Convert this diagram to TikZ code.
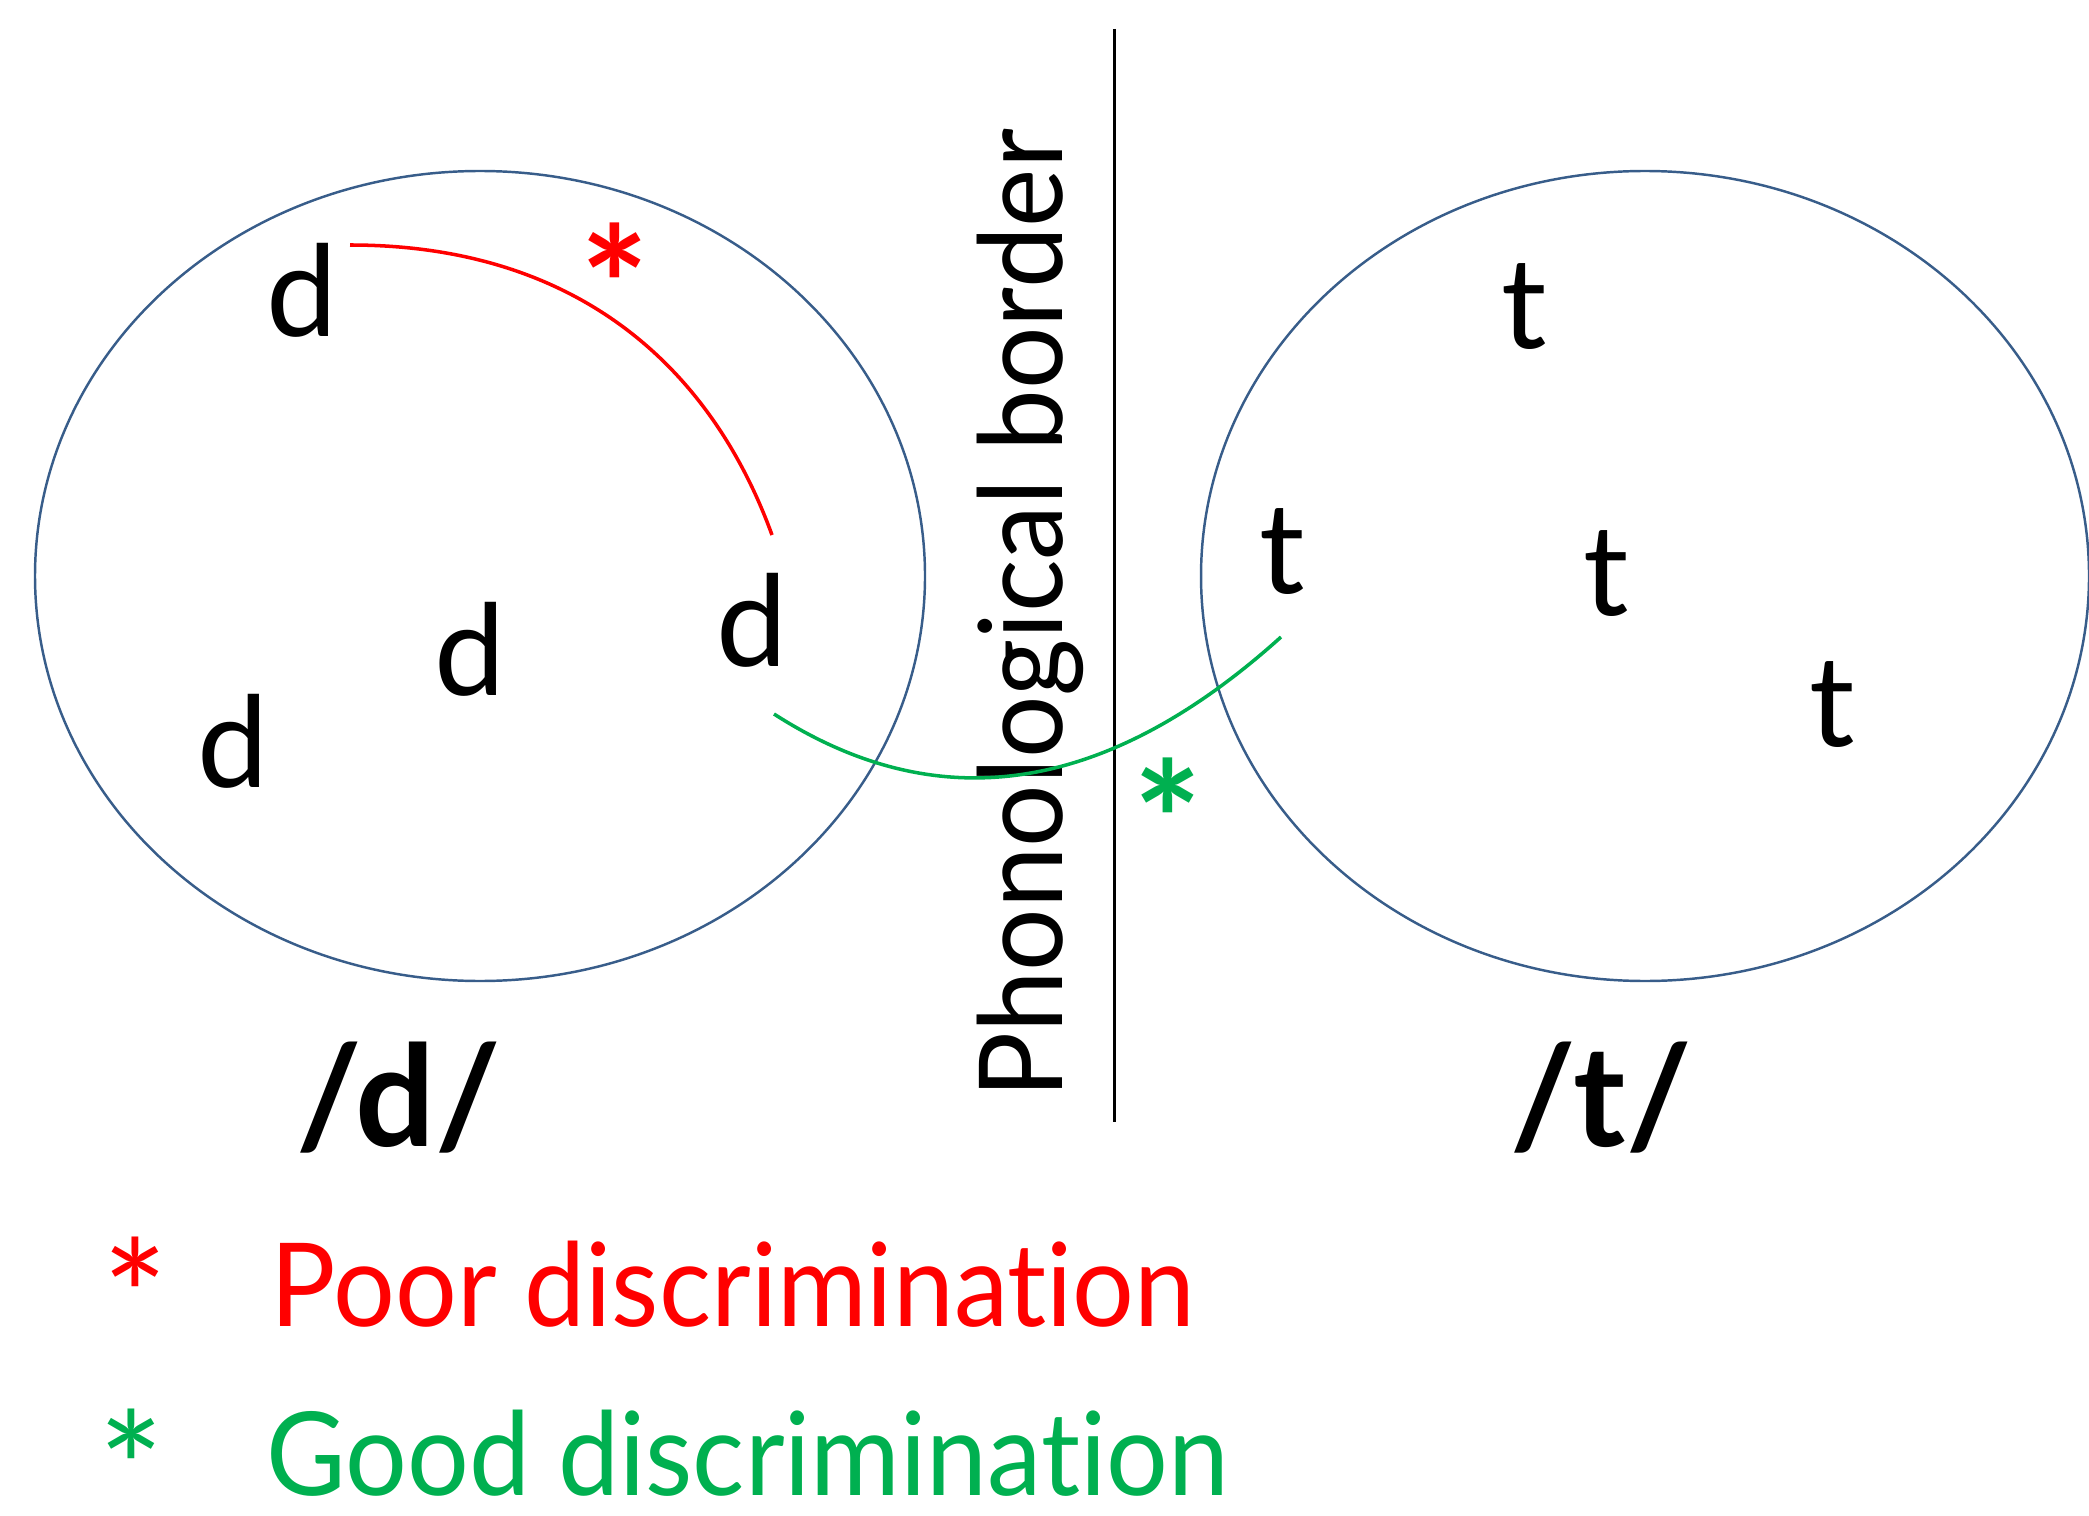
\documentclass[tikz,border=0pt]{standalone}
\usepackage{fontspec}
\setmainfont{Lato}[Ligatures=NoCommon]
\usetikzlibrary{positioning}
\definecolor{ovalblue}{HTML}{385D8A}
\definecolor{poorred}{HTML}{FF0000}
\definecolor{goodgreen}{HTML}{00B050}
\begin{document}
\begin{tikzpicture}[
 x=0.01cm, y=-0.01cm,
 oval/.style={draw=ovalblue, line width=0.7pt},
 sound/.style={inner sep=0pt, anchor=base, font=\fontsize{36}{40}\selectfont},
 phoneme/.style={inner sep=0pt, anchor=base, font=\fontsize{40}{44}\selectfont\bfseries},
 star/.style={inner sep=0pt, anchor=base, font=\fontsize{46}{50}\selectfont\bfseries},
 keystar/.style={inner sep=0pt, anchor=base, font=\fontsize{44}{48}\selectfont},
 keytext/.style={inner sep=0pt, anchor=base west, font=\fontsize{33}{38}\selectfont\addfontfeature{FakeStretch=0.94}},
 poorline/.style={draw=poorred, line width=1pt},
 goodline/.style={draw=goodgreen, line width=1pt}
 ]
 \useasboundingbox (0,0) rectangle (2089,1516);

 % The two categories
 \draw[oval] (480,576) ellipse [x radius=445, y radius=405];
 \draw[oval] (1645,576) ellipse [x radius=444, y radius=405];

 % Tokens of /d/
 \node[sound] (d1) at (302,337) {d};
 \node[sound] (d2) at (470,695) {d};
 \node[sound] (d3) at (233,787) {d};
 \node[sound] (d4) at (752,666) {d};

 % Tokens of /t/
 \node[sound] (t1) at (1524,349) {t};
 \node[sound] (t2) at (1282,593) {t};
 \node[sound] (t3) at (1606,615) {t};
 \node[sound] (t4) at (1832,746) {t};

 % Category labels
 \node[phoneme] (dlabel) at (399,1146) {/d/};
 \node[phoneme] (tlabel) at (1601,1146) {/t/};

 % Border
 \coordinate (bordertop) at (1114,29);
 \coordinate (borderbot) at (1114,1122);
 \draw[line width=0.85pt] (bordertop) -- (borderbot);
 \node[inner sep=0pt, anchor=base, rotate=90, font=\fontsize{33}{38}\selectfont\addfontfeature{FakeStretch=0.95}] (border) at (1062,614) {Phonological border};

 % Within-category pair
 \coordinate (poorA) at (350,245);
 \coordinate (poorB) at (772,535);
 \draw[poorline] (poorA) .. controls (580,245) and (712,370) .. (poorB);
 \node[star, text=poorred] (poorstar) at (615,346) {*};

 % Across-border pair
 \coordinate (goodA) at (774,714);
 \coordinate (goodB) at (1281,637);
 \draw[goodline] (goodA) .. controls (942,822) and (1110,791) .. (goodB);
 \node[star, text=goodgreen] (goodstar) at (1168,880) {*};

 % Key
 \node[keytext, text=poorred] (poortext) at (270,1326) {Poor discrimination};
 \node[keystar, text=poorred] (poorkey) at (135,1326) {\smash{\raisebox{-0.18em}{*}}};
 \node[keytext, text=goodgreen] (goodtext) at (266,1495) {Good discrimination};
 \node[keystar, text=goodgreen] (goodkey) at (131,1495) {\smash{\raisebox{-0.2em}{*}}};
\end{tikzpicture}
\end{document}
